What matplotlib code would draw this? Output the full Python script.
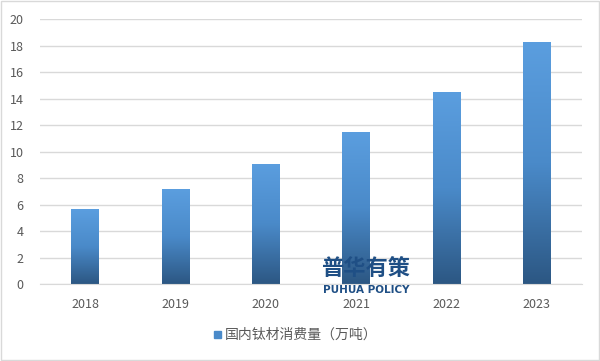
import matplotlib.pyplot as plt
import numpy as np
from matplotlib.colors import LinearSegmentedColormap

plt.rcParams['font.family'] = ['Noto Sans CJK SC', 'DejaVu Sans']

years = ['2018', '2019', '2020', '2021', '2022', '2023']
values = [5.66, 7.17, 9.06, 11.47, 14.49, 18.26]
label = '国内钛材消费量（万吨）'

cmap = LinearSegmentedColormap.from_list('bar', ['#2c5783', '#4a8ac9', '#5b9edf'])

fig = plt.figure(figsize=(6.0, 3.61), dpi=100)
ax = fig.add_axes([0.067, 0.213, 0.903, 0.734])

x = np.arange(len(years))
bars = ax.bar(x, values, width=0.31, color='none', edgecolor='none', zorder=2)
grad = np.linspace(0, 1, 256).reshape(-1, 1)
for b in bars:
    x0, y0 = b.get_x(), b.get_y()
    w, h = b.get_width(), b.get_height()
    im = ax.imshow(grad, extent=[x0, x0 + w, y0, y0 + h], origin='lower',
                   cmap=cmap, aspect='auto', zorder=2)
    im.set_clip_path(b)

ax.set_xlim(-0.5, len(years) - 0.5)
ax.set_ylim(0, 20)
ax.set_yticks(range(0, 21, 2))
ax.set_xticks(x)
ax.set_xticklabels(years)
ax.grid(axis='y', color='#d9d9d9', linewidth=1, zorder=0)
ax.set_axisbelow(True)
for s in ['top', 'right', 'left']:
    ax.spines[s].set_visible(False)
ax.spines['bottom'].set_color('#d9d9d9')
ax.tick_params(length=0, labelsize=9, colors='#595959', pad=10)
ax.tick_params(axis='y', pad=12)

# legend
fig.patches.append(plt.Rectangle((0.357, 0.064), 0.011, 0.018, transform=fig.transFigure,
                                 color='#4a8ac9', figure=fig))
fig.text(0.375, 0.073, label, fontsize=10, color='#595959', va='center')

# watermark
fig.text(0.61, 0.255, '普华有策', fontsize=16, color='#1f4f85', fontweight='bold',
         ha='center', va='center', zorder=5)
fig.text(0.61, 0.197, 'PUHUA POLICY', fontsize=7.5, color='#1f4f85', fontweight='bold',
         family='DejaVu Sans', ha='center', va='center', zorder=5)

fig.patches.append(plt.Rectangle((0.001, 0.002), 0.997, 0.995, transform=fig.transFigure,
                                 fill=False, edgecolor='#d9d9d9', linewidth=1, figure=fig))

fig.savefig('out.png', dpi=100)
